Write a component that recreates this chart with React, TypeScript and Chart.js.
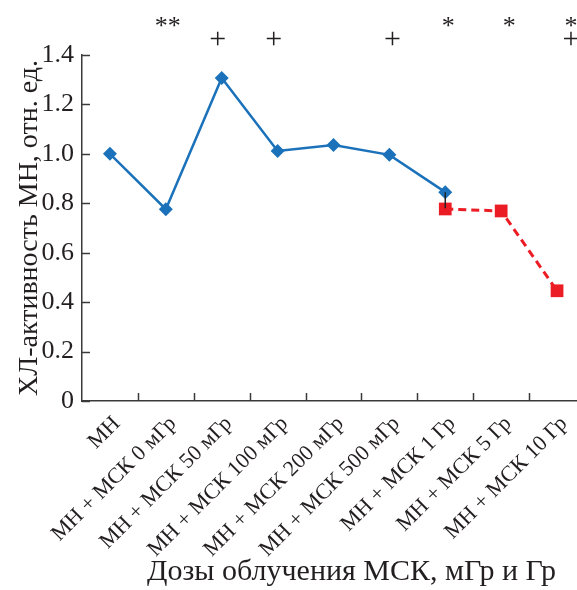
import { useEffect, useRef } from "react";
import { Chart, registerables } from "chart.js";

Chart.register(...registerables);

const categories = [
  "МН",
  "МН + МСК 0 мГр",
  "МН + МСК 50 мГр",
  "МН + МСК 100 мГр",
  "МН + МСК 200 мГр",
  "МН + МСК 500 мГр",
  "МН + МСК 1 Гр",
  "МН + МСК 5 Гр",
  "МН + МСК 10 Гр",
];
const mGySeries = [1.0, 0.776, 1.307, 1.012, 1.036, 0.996, 0.845, null, null];
const GySeries = [null, null, null, null, null, null, 0.777, 0.769, 0.446];
const mGyErrorLow = [null, null, null, null, null, null, 0.78, null, null];
const marksTop = ["", "**", "", "", "", "", "*", "*", "*"];
const marksBottom = ["", "", "+", "+", "", "+", "", "", "+"];
const markShift = [0, 2, -4, -4, 0, 3, 3, 8, 14];
const yTickValues = [0, 0.2, 0.4, 0.6, 0.8, 1.0, 1.2, 1.4];
const yTitle = "ХЛ-активность МН, отн. ед.";
const xTitle = "Дозы облучения МСК, мГр и Гр";

const FONT = "'Liberation Serif', 'Times New Roman', serif";
const INK = "#231f20";
const AXIS = "#3a3a3a";
const BLUE = "#1b72ba";
const RED = "#ec1c24";

const decorPlugin = {
  id: "decor",
  afterDraw(chart: any) {
    const { ctx, chartArea, scales } = chart;
    const x = scales.x;
    const y = scales.y;
    const { left, bottom } = chartArea;
    ctx.save();
    ctx.strokeStyle = AXIS;
    ctx.lineWidth = 1.5;
    yTickValues.forEach((v) => {
      const py = Math.round(y.getPixelForValue(v)) + 0.5;
      ctx.beginPath();
      ctx.moveTo(left, py);
      ctx.lineTo(left + 8, py);
      ctx.stroke();
    });
    for (let i = 1; i <= categories.length; i++) {
      const p0 = x.getPixelForValue(i - 1);
      const p1 = i < categories.length ? x.getPixelForValue(i) : p0 + (p0 - x.getPixelForValue(i - 2));
      const px = Math.round((p0 + p1) / 2) + 0.5;
      ctx.beginPath();
      ctx.moveTo(px, bottom);
      ctx.lineTo(px, bottom - 8);
      ctx.stroke();
    }
    ctx.strokeStyle = "#222";
    ctx.lineWidth = 1.5;
    mGyErrorLow.forEach((low, i) => {
      const v = mGySeries[i];
      if (low == null || v == null) return;
      const px = x.getPixelForValue(i);
      ctx.beginPath();
      ctx.moveTo(px, y.getPixelForValue(v));
      ctx.lineTo(px, y.getPixelForValue(low));
      ctx.stroke();
    });
    ctx.fillStyle = INK;
    ctx.textAlign = "center";
    ctx.textBaseline = "middle";
    categories.forEach((_, i) => {
      const px = x.getPixelForValue(i) + markShift[i];
      if (marksTop[i]) {
        ctx.font = `26px ${FONT}`;
        ctx.fillText(marksTop[i], px, 27);
      }
      if (marksBottom[i]) {
        ctx.font = `30px ${FONT}`;
        ctx.fillText(marksBottom[i], px, 40);
      }
    });
    ctx.font = `30px ${FONT}`;
    ctx.textBaseline = "alphabetic";
    ctx.fillText(xTitle, (chartArea.left + chartArea.right) / 2 + 18, 580);
    ctx.restore();
  },
};

export default function App() {
  const ref = useRef<HTMLCanvasElement | null>(null);
  useEffect(() => {
    if (!ref.current) return;
    const chart = new Chart(ref.current, {
      type: "line",
      data: {
        labels: categories,
        datasets: [
          {
            data: mGySeries,
            borderColor: BLUE,
            backgroundColor: BLUE,
            borderWidth: 2.5,
            pointStyle: "rectRot",
            pointRadius: 7,
            pointBorderWidth: 0,
            pointHoverRadius: 7,
            spanGaps: false,
          },
          {
            data: GySeries,
            borderColor: RED,
            backgroundColor: RED,
            borderWidth: 3,
            borderDash: [8, 5],
            pointStyle: "rect",
            pointRadius: 9,
            pointBorderWidth: 0,
            pointHoverRadius: 9,
            spanGaps: false,
          },
        ],
      },
      options: {
        responsive: false,
        animation: false,
        devicePixelRatio: 1,
        layout: { padding: { top: 55, right: 15, left: 0, bottom: 0 } },
        plugins: {
          legend: { display: false },
          tooltip: { enabled: false },
        },
        scales: {
          x: {
            type: "category",
            offset: true,
            grid: { display: true, drawOnChartArea: false, drawTicks: false },
            border: { display: true, color: AXIS, width: 1.5 },
            ticks: {
              autoSkip: false,
              maxRotation: 45,
              minRotation: 45,
              padding: 10,
              labelOffset: 7,
              color: INK,
              font: { family: FONT, size: 22 },
            },
            afterFit(scale: any) {
              scale.height = 189;
            },
          },
          y: {
            min: 0,
            max: 1.4,
            afterBuildTicks(scale: any) {
              scale.ticks = yTickValues.map((v) => ({ value: v }));
            },
            grid: { display: true, drawOnChartArea: false, drawTicks: false },
            border: { display: true, color: AXIS, width: 1.5 },
            ticks: {
              padding: 8,
              color: INK,
              font: { family: FONT, size: 26 },
              callback: (v: any) => (Number(v) === 0 ? "0" : Number(v).toFixed(1)),
            },
            title: {
              display: true,
              text: yTitle,
              color: INK,
              font: { family: FONT, size: 28 },
              padding: { top: 13, bottom: 0 },
            },
            afterFit(scale: any) {
              scale.width = 82;
            },
          },
        },
      },
      plugins: [decorPlugin],
    });
    return () => chart.destroy();
  }, []);
  return (
    <div style={{ position: "fixed", left: 0, top: 0, width: 577, height: 590, overflow: "hidden", background: "#fff" }}>
      <canvas ref={ref} width={600} height={590} style={{ display: "block" }} />
    </div>
  );
}
